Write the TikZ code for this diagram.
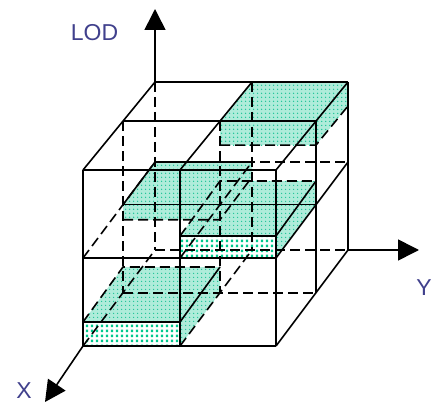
\documentclass[tikz,border=0pt]{standalone}
\usepackage{fontspec}
\setmainfont{Liberation Sans}
\usetikzlibrary{arrows.meta,patterns}
\pgfdeclarepatternformonly{greensq}{\pgfpoint{0pt}{0pt}}{\pgfpoint{5pt}{5pt}}{\pgfpoint{5pt}{5pt}}{\pgfpathrectangle{\pgfpoint{1pt}{1pt}}{\pgfpoint{2.8pt}{2.8pt}}\pgfusepath{fill}}
\pgfdeclarepatternformonly{mintdots}{\pgfpoint{0pt}{0pt}}{\pgfpoint{4pt}{4pt}}{\pgfpoint{4pt}{4pt}}{\pgfpathcircle{\pgfpoint{2pt}{2pt}}{0.9pt}\pgfusepath{fill}}
\definecolor{mintbg}{RGB}{175,236,218}
\definecolor{mintdot}{RGB}{25,195,150}
\definecolor{brightgreen}{RGB}{0,200,140}
\definecolor{labelblue}{RGB}{64,64,140}
\begin{document}
\begin{tikzpicture}[x=1pt,y=-1pt,
  edge/.style={line width=1.6pt, draw=black},
  hidden/.style={edge, dash pattern=on 10pt off 5pt},
  mint/.style={fill=mintbg, postaction={pattern=mintdots, pattern color=mintdot}},
  bright/.style={fill=white, postaction={pattern=greensq, pattern color=brightgreen}},
  axis/.style={line width=1.6pt, draw=black, -{Triangle[length=21pt,width=21pt]}},
  lbl/.style={text=labelblue, font=\fontsize{23}{27}\selectfont, inner sep=0pt}]
\useasboundingbox (0,0) rectangle (433,403);
% grid points p<i><j><k>
\coordinate (p000) at (83,346);  \coordinate (p001) at (123,292.7); \coordinate (p002) at (155,250);
\coordinate (p010) at (83,258);  \coordinate (p011) at (123,204.7); \coordinate (p012) at (155,162);
\coordinate (p020) at (83,170);  \coordinate (p021) at (123,121.1); \coordinate (p022) at (155,82);
\coordinate (p100) at (180,346); \coordinate (p101) at (220,292.7); \coordinate (p102) at (252,250);
\coordinate (p110) at (180,258); \coordinate (p111) at (220,204.7); \coordinate (p112) at (252,162);
\coordinate (p120) at (180,170); \coordinate (p121) at (220,121.1); \coordinate (p122) at (252,82);
\coordinate (p200) at (276,346); \coordinate (p201) at (316,292.7); \coordinate (p202) at (348,250);
\coordinate (p210) at (276,258); \coordinate (p211) at (316,204.7); \coordinate (p212) at (348,162);
\coordinate (p220) at (276,170); \coordinate (p221) at (316,121.1); \coordinate (p222) at (348,82);
% slab corners
\coordinate (s1fl) at (220,145.1); \coordinate (s1fr) at (316,145.1); \coordinate (s1br) at (348,106);
\coordinate (afl) at (123,219.7); \coordinate (afr) at (220,219.7); \coordinate (abr) at (252,177);
\coordinate (bfl) at (180,236); \coordinate (bfr) at (276,236); \coordinate (bbr) at (316,181); \coordinate (bbl) at (220,181);
\coordinate (cfl) at (83,322); \coordinate (cfr) at (180,322); \coordinate (cbr) at (220,267); \coordinate (cbl) at (123,267);
% fills
\path[mint] (p121)--(p221)--(p222)--(p122)--cycle;
\path[mint] (p121)--(p221)--(s1fr)--(s1fl)--cycle;
\path[mint] (p221)--(p222)--(s1br)--(s1fr)--cycle;
\path[mint] (p011)--(p111)--(p112)--(p012)--cycle;
\path[mint] (p011)--(p111)--(afr)--(afl)--cycle;
\path[mint] (p111)--(p112)--(abr)--(afr)--cycle;
\path[mint] (bfl)--(bfr)--(bbr)--(bbl)--cycle;
\path[mint] (bfr)--(bbr)--(p211)--(p210)--cycle;
\path[bright] (bfl)--(bfr)--(p210)--(p110)--cycle;
\path[mint] (cfl)--(cfr)--(cbr)--(cbl)--cycle;
\path[mint] (cfr)--(cbr)--(p101)--(p100)--cycle;
\path[bright] (cfl)--(cfr)--(p100)--(p000)--cycle;
% hidden grid lines
\draw[hidden] (p001)--(p201);
\draw[hidden] (p012)--(p212);
\draw[hidden] (p002)--(p202);
\draw[hidden] (p021)--(p001);
\draw[hidden] (p121)--(p101);
\draw[hidden] (p022)--(p002);
\draw[hidden] (p122)--(p102);
\draw[hidden] (p010)--(p012);
\draw[hidden] (p110)--(p112);
\draw[hidden] (p000)--(p002);
\draw[hidden] (p100)--(p102);
% slab hidden edges
\draw[hidden] (s1fl)--(s1fr)--(s1br);
\draw[hidden] (afl)--(afr)--(abr);
\draw[hidden] (bfl)--(bbl)--(bbr);
\draw[hidden] (cfl)--(cbl)--(cbr);
% visible grid lines
\draw[edge] (p000)--(p200);
\draw[edge] (p010)--(p210);
\draw[edge] (p020)--(p220);
\draw[edge] (p021)--(p221);
\draw[edge] (p022)--(p222);
\draw[edge] (p011)--(p211);
\draw[edge] (p000)--(p020);
\draw[edge] (p100)--(p120);
\draw[edge] (p200)--(p220);
\draw[edge] (p201)--(p221);
\draw[edge] (p202)--(p222);
\draw[edge] (p020)--(p022);
\draw[edge] (p120)--(p122);
\draw[edge] (p220)--(p222);
\draw[edge] (p210)--(p212);
\draw[edge] (p200)--(p202);
% slab visible edges
\draw[edge] (p011)--(p012)--(p112);
\draw[edge] (bfl)--(bfr)--(bbr);
\draw[edge] (cfl)--(cfr)--(cbr);
% axes
\coordinate (lodtip) at (155,9);
\coordinate (ytip) at (419,250);
\coordinate (xtip) at (45,402);
\draw[axis] (p022)--(lodtip);
\draw[axis] (p202)--(ytip);
\draw[axis] (p000)--(xtip);
% labels
\node[lbl] (lod) at (94.5,33) {LOD};
\node[lbl] (xl) at (24,391) {X};
\node[lbl, anchor=east] (yl) at (432,288) {Y};
\end{tikzpicture}
\end{document}
